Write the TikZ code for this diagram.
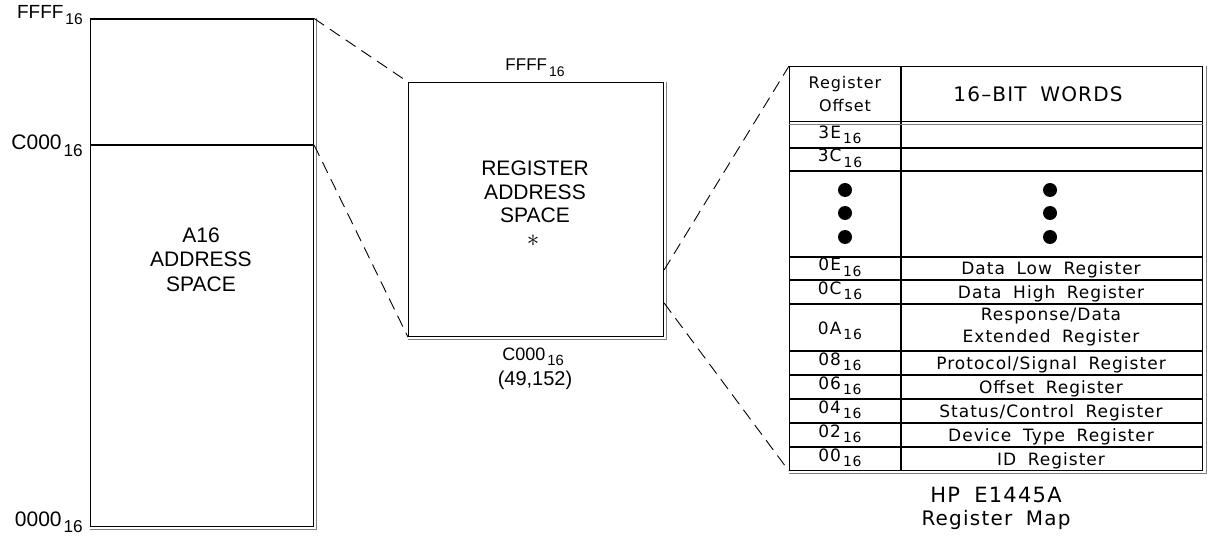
\documentclass[tikz,border=0pt]{standalone}
\usepackage{fontspec}
\setmainfont{Liberation Sans}
\newfontfamily\cadfont{DejaVu Sans}[LetterSpace=6,WordSpace=1.8]
\newcommand\hsub[1]{\kern2pt\raisebox{-0.32em}{\scalebox{0.82}{#1}}}
\tikzset{
  frame/.style={line width=1.1pt, draw=black},
  shade/.style={line width=1.1pt, draw=black!50},
  link/.style={line width=0.9pt, dash pattern=on 12pt off 7pt},
  boxnode/.style={frame, inner sep=0pt, anchor=north west},
  hv/.style={inner sep=0pt, anchor=base, font=\fontsize{#1pt}{#1pt}\selectfont},
  cad/.style={inner sep=0pt, anchor=base, font=\cadfont\fontsize{#1pt}{#1pt}\selectfont},
  offs/.style={cad=17},
  word/.style={cad=17}
}
\begin{document}
\begin{tikzpicture}[x=1pt,y=-1pt]
\useasboundingbox (0,0) rectangle (1207,537);

% ---- left box: A16 address space
\node[boxnode, minimum width=223pt, minimum height=507.5pt] (a16) at (90,18.5) {};
\draw[shade] ([xshift=2.6pt]a16.north east) -- ([shift={(2.6pt,-2.6pt)}]a16.south east) -- ([yshift=-2.6pt]a16.south west);
\coordinate (divw) at (a16.west |- 0,145);
\coordinate (dive) at (a16.east |- 0,145);
\draw[frame] (divw) -- (dive);
\node[hv=19, anchor=base east] (lf) at (83,18.5) {FFFF\hsub{16}};
\node[hv=21, anchor=base east] (lc) at (83,150) {C000\hsub{16}};
\node[hv=21, anchor=base east] (l0) at (83,526) {0000\hsub{16}};
\node[hv=21] (a1) at (201,243) {A16};
\node[hv=21] (a2) at (201,267) {ADDRESS};
\node[hv=21] (a3) at (201,291) {SPACE};

% ---- middle box: register address space
\node[boxnode, minimum width=255pt, minimum height=254pt] (reg) at (408,82) {};
\draw[shade] ([xshift=2.6pt]reg.north east) -- ([shift={(2.6pt,-2.6pt)}]reg.south east) -- ([yshift=-2.6pt]reg.south west);
\node[hv=17] (mf) at (535,71) {FFFF\hsub{16}};
\node[hv=18] (mc) at (533,360) {C000\hsub{16}};
\node[hv=20] (md) at (535,385) {(49,152)};
\node[hv=21] (r1) at (535,176) {REGISTER};
\node[hv=21] (r2) at (535,200) {ADDRESS};
\node[hv=21] (r3) at (535,223) {SPACE};
\node[inner sep=0pt, text height=8pt, text depth=0pt, font=\fontsize{26pt}{26pt}\selectfont] (ast) at (533,243) {$\ast$};

% ---- zoom connectors
\draw[link] (a16.north east) -- (reg.north west);
\draw[link] (dive) -- (reg.south west);

% ---- register map table
\node[boxnode, minimum width=413pt, minimum height=404pt] (tbl) at (789,66) {};
\draw[shade] ([xshift=3pt]tbl.north east) -- ([shift={(3pt,-2.6pt)}]tbl.south east) -- ([yshift=-2.6pt]tbl.south west);
\draw[frame] (tbl.north -| 901,0) -- (tbl.south -| 901,0);
\draw[frame] (tbl.west |- 0,121.5) -- (tbl.east |- 0,121.5);
\draw[shade] (tbl.west |- 0,124.5) -- (tbl.east |- 0,124.5);
\foreach \yy in {148,171,257,280,304,351,375,399,423,447}
  \draw[frame] (tbl.west |- 0,\yy) -- (tbl.east |- 0,\yy);

\coordinate (rA) at (reg.east |- 0,270);
\coordinate (rB) at (reg.east |- 0,303);
\draw[link] (rA) -- (tbl.north west);
\draw[link] (rB) -- (tbl.south west);

% header
\node[cad=16] (h1) at (845,89) {Register};
\node[cad=16] (h2) at (845,112) {Offset};
\node[cad=20] (h3) at (1038,102) {16–BIT WORDS};

% offsets
\node[offs] (o3e) at (840,138.5) {3E\hsub{16}};
\node[offs] (o3c) at (840,162) {3C\hsub{16}};
\node[offs] (o0e) at (840,271) {0E\hsub{16}};
\node[offs] (o0c) at (840,294.5) {0C\hsub{16}};
\node[offs] (o0a) at (840,334) {0A\hsub{16}};
\node[offs] (o08) at (840,365.5) {08\hsub{16}};
\node[offs] (o06) at (840,389.5) {06\hsub{16}};
\node[offs] (o04) at (840,413.5) {04\hsub{16}};
\node[offs] (o02) at (840,437.5) {02\hsub{16}};
\node[offs] (o00) at (840,461) {00\hsub{16}};

% words
\node[word] (w0e) at (1051,275) {Data Low Register};
\node[word] (w0c) at (1051,298.5) {Data High Register};
\node[word] (w0a1) at (1051,320) {Response/Data};
\node[word] (w0a2) at (1051,342) {Extended Register};
\node[word] (w08) at (1051,369.5) {Protocol/Signal Register};
\node[word] (w06) at (1051,393.5) {Offset Register};
\node[word] (w04) at (1051,417.5) {Status/Control Register};
\node[word] (w02) at (1051,441.5) {Device Type Register};
\node[word] (w00) at (1051,465) {ID Register};

% dots
\foreach \yy in {190,213,237} {
  \fill (845,\yy) circle[radius=7pt];
  \fill (1050,\yy) circle[radius=7pt];
}

% caption
\node[cad=21] (c1) at (996,502) {HP E1445A};
\node[cad=20] (c2) at (996,525) {Register Map};
\end{tikzpicture}
\end{document}
